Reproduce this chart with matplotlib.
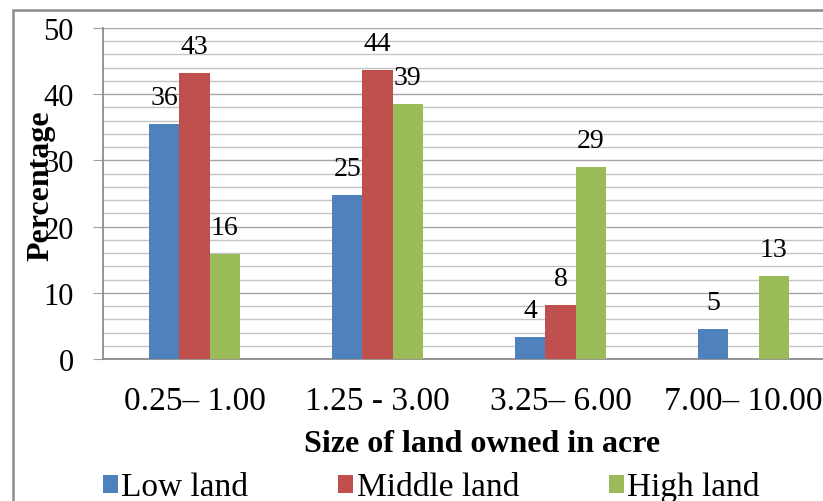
import numpy as np
import matplotlib
matplotlib.use("Agg")
from matplotlib import pyplot as plt
from matplotlib.patches import Patch, Rectangle

categories = ["0.25\u2013 1.00", "1.25 - 3.00", "3.25\u2013 6.00", "7.00\u2013 10.00"]
low_land = [35.5, 24.8, 3.3, 4.6]
middle_land = [43.2, 43.6, 8.2, 0]
high_land = [15.9, 38.5, 29.0, 12.6]
low_labels = ["36", "25", "4", "5"]
middle_labels = ["43", "44", "8", ""]
high_labels = ["16", "39", "29", "13"]

series = [
    ("Low land", low_land, low_labels, "#4F81BD"),
    ("Middle land", middle_land, middle_labels, "#C0504D"),
    ("High land", high_land, high_labels, "#9BBB59"),
]

plt.rcParams["font.family"] = ["Liberation Serif", "DejaVu Serif"]

fig = plt.figure(figsize=(8.23, 5.02), dpi=100)
# outer chart border (cropped on right and bottom)
fig.patches.append(Rectangle((13 / 823, -0.2), 1.0, 1 - 11 / 502 + 0.2,
                             transform=fig.transFigure, fill=False,
                             edgecolor="#8c8c8c", linewidth=1.8))

ax = fig.add_axes([103 / 823, 142 / 502, 732 / 823, 331 / 502])

x = np.arange(len(categories))
w = 0.164
for i, (name, vals, labs, col) in enumerate(series):
    pos = x + (i - 1) * w
    ax.bar(pos, vals, width=w, color=col, zorder=3)
    for p, v, t in zip(pos, vals, labs):
        if t:
            ax.annotate(t, (p, v), xytext=(0, 19), textcoords="offset points",
                        ha="center", va="center", fontsize=20)

ax.set_xlim(-0.5, 3.5)
ax.set_ylim(0, 50)
ax.set_yticks(np.arange(0, 51, 10))
ax.set_yticks(np.arange(0, 51, 2), minor=True)
ax.grid(axis="y", which="major", color="#a6a6a6", linewidth=1.0, zorder=0)
ax.grid(axis="y", which="minor", color="#c4c4c4", linewidth=1.0, zorder=0)
ax.set_xticks(x)
ax.set_xticklabels(categories, fontsize=24)
ax.tick_params(axis="x", length=0, pad=19)
ax.tick_params(axis="y", which="major", length=7, direction="out",
               color="#a0a0a0", labelsize=22, pad=14)
ax.tick_params(axis="y", which="minor", length=0)
for s in ["top", "right"]:
    ax.spines[s].set_visible(False)
ax.spines["left"].set_color("#8c8c8c")
ax.spines["bottom"].set_color("#8c8c8c")
ax.spines["left"].set_linewidth(1.3)
ax.spines["bottom"].set_linewidth(1.3)

fig.text(41 / 823, 1 - 186 / 502, "Percentage", rotation=90, fontsize=23,
         fontweight="bold", ha="center", va="center")
fig.text(482 / 823, 1 - 445 / 502, "Size of land owned in acre", fontsize=23,
         fontweight="bold", ha="center", va="center")

handles = [Patch(facecolor=c, edgecolor="none") for _, _, _, c in series]
fig.legend(handles, [s[0] for s in series], loc="center left",
           bbox_to_anchor=(103 / 823, 1 - 488 / 502), ncol=3, frameon=False,
           fontsize=24, handlelength=0.45, handleheight=0.45, handletextpad=0.1,
           columnspacing=2.7, borderpad=0, borderaxespad=0)

fig.savefig("out.png", dpi=100)
